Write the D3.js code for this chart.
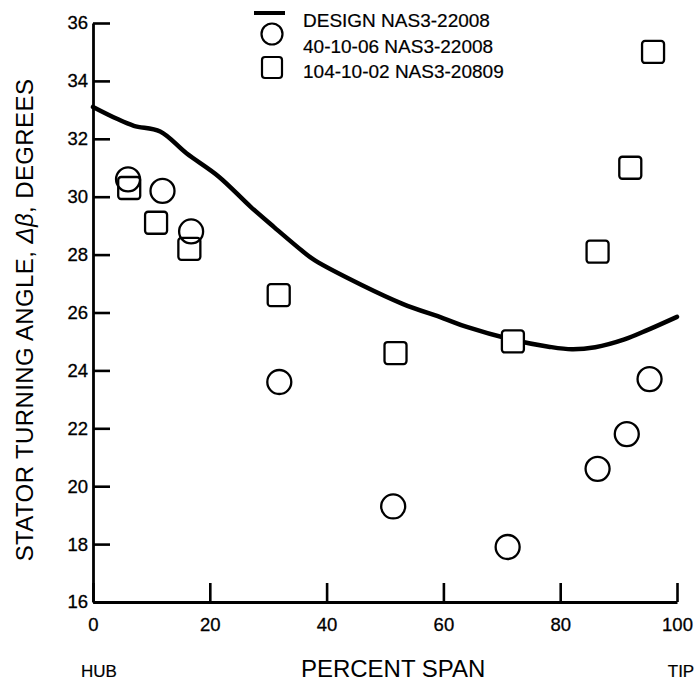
<!DOCTYPE html>
<html>
<head>
<meta charset="utf-8">
<script src="https://cdn.jsdelivr.net/npm/d3@7"></script>
<style>
  html, body { margin: 0; padding: 0; background: #fff; }
  svg { display: block; }
  text { font-family: "Liberation Sans", Arial, Helvetica, sans-serif; fill: #000; }
</style>
</head>
<body>
<svg id="chart" width="700" height="684"></svg>
<script>
// Design stator turning angle distribution (NAS3-22008)
const designSpan  = [0, 4, 7, 11.5, 16, 21.5, 27, 31, 36, 38, 46, 53, 60, 64, 72, 78, 82, 86, 91, 95, 100];
const designAngle = [33.1, 32.7, 32.45, 32.25, 31.5, 30.7, 29.65, 28.95, 28.1, 27.8, 26.95, 26.3, 25.8, 25.5, 25.05, 24.82, 24.73, 24.8, 25.07, 25.4, 25.85];

// Measured rotor 40-10-06 (NAS3-22008)
const run40Span  = [6.0, 11.9, 16.8, 31.9, 51.4, 71.0, 86.4, 91.4, 95.3];
const run40Angle = [30.6, 30.2, 28.8, 23.6, 19.3, 17.9, 20.6, 21.8, 23.7];

// Measured rotor 104-10-02 (NAS3-20809)
const run104Span  = [6.2, 10.8, 16.5, 31.8, 51.8, 71.9, 86.4, 92.0, 95.9];
const run104Angle = [30.3, 29.1, 28.2, 26.6, 24.6, 25.0, 28.1, 31.0, 35.0];

const xTicks = [0, 20, 40, 60, 80, 100];
const yTicks = [16, 18, 20, 22, 24, 26, 28, 30, 32, 34, 36];

const legendLabels = ["DESIGN NAS3-22008", "40-10-06 NAS3-22008", "104-10-02 NAS3-20809"];

const svg = d3.select("#chart");

const x = d3.scaleLinear().domain([0, 100]).range([93, 677]);
const y = d3.scaleLinear().domain([16, 36]).range([602, 23]);

// axes: thick black lines with inward ticks
const yAxis = d3.axisLeft(y).tickValues(yTicks).tickSize(-17).tickSizeOuter(0).tickPadding(5);
const xAxis = d3.axisBottom(x).tickValues(xTicks).tickSize(-19).tickSizeOuter(0).tickPadding(16);

const gy = svg.append("g").attr("transform", `translate(${x(0)},0)`).call(yAxis);
const gx = svg.append("g").attr("transform", `translate(0,${y(16)})`).call(xAxis);

[gx, gy].forEach(g => {
  g.select(".domain").attr("stroke", "#000").attr("stroke-width", 2.8);
  g.selectAll(".tick line").attr("stroke", "#000").attr("stroke-width", 2.6);
  g.selectAll(".tick text")
    .style("font-family", '"Liberation Sans", Arial, Helvetica, sans-serif')
    .style("font-size", "18.5px")
    .style("stroke", "#000").style("stroke-width", 0.3)
    .attr("fill", "#000");
});

// design curve
const design = designSpan.map((s, i) => [s, designAngle[i]]);
svg.append("path")
  .datum(design)
  .attr("fill", "none")
  .attr("stroke", "#000")
  .attr("stroke-width", 4.5)
  .attr("stroke-linecap", "round")
  .attr("d", d3.line().x(d => x(d[0])).y(d => y(d[1])).curve(d3.curveCatmullRom));

// squares (white filled, drawn over the curve)
const sq = 22;
svg.append("g").selectAll("rect")
  .data(run104Span.map((s, i) => [s, run104Angle[i]]))
  .join("rect")
  .attr("x", d => x(d[0]) - sq / 2)
  .attr("y", d => y(d[1]) - sq / 2)
  .attr("width", sq).attr("height", sq)
  .attr("rx", 3)
  .attr("fill", "#fff")
  .attr("stroke", "#000")
  .attr("stroke-width", 2.3);

// circles (open)
svg.append("g").selectAll("circle")
  .data(run40Span.map((s, i) => [s, run40Angle[i]]))
  .join("circle")
  .attr("cx", d => x(d[0]))
  .attr("cy", d => y(d[1]))
  .attr("r", 12)
  .attr("fill", "none")
  .attr("stroke", "#000")
  .attr("stroke-width", 2.3);

// legend
const lg = svg.append("g");
lg.append("line").attr("x1", 254).attr("x2", 285).attr("y1", 13).attr("y2", 13)
  .attr("stroke", "#000").attr("stroke-width", 4);
lg.append("circle").attr("cx", 272).attr("cy", 34).attr("r", 10.5)
  .attr("fill", "none").attr("stroke", "#000").attr("stroke-width", 2.2);
lg.append("rect").attr("x", 262).attr("y", 57).attr("width", 20).attr("height", 21).attr("rx", 3)
  .attr("fill", "#fff").attr("stroke", "#000").attr("stroke-width", 2.2);
lg.selectAll("text.leg")
  .data(legendLabels)
  .join("text")
  .attr("class", "leg")
  .attr("x", 303)
  .attr("y", (d, i) => [27, 53, 78][i])
  .style("font-size", "19px")
  .style("stroke", "#000").style("stroke-width", 0.2)
  .text(d => d);

// axis titles
svg.append("text")
  .attr("x", x(51.4)).attr("y", 677)
  .attr("text-anchor", "middle")
  .style("font-size", "24px")
  .text("PERCENT SPAN");
svg.append("text")
  .attr("x", 99).attr("y", 677)
  .attr("text-anchor", "middle")
  .style("font-size", "17px")
  .style("stroke", "#000").style("stroke-width", 0.2)
  .text("HUB");
svg.append("text")
  .attr("x", 681).attr("y", 677)
  .attr("text-anchor", "middle")
  .style("font-size", "17px")
  .style("stroke", "#000").style("stroke-width", 0.2)
  .text("TIP");

const yt = svg.append("text")
  .attr("transform", "translate(33,320) rotate(-90)")
  .attr("text-anchor", "middle")
  .style("font-size", "24px")
  .style("letter-spacing", "0.4px");
yt.append("tspan").text("STATOR TURNING ANGLE, ");
yt.append("tspan").style("font-style", "italic").text("Δβ");
yt.append("tspan").text(", DEGREES");
</script>
</body>
</html>
